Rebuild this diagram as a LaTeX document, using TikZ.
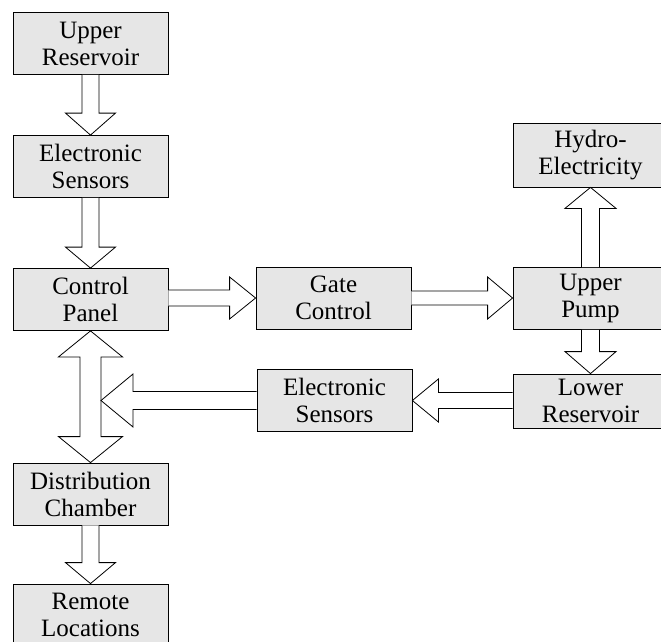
\documentclass[tikz,border=0pt]{standalone}
\usepackage{fontspec}
\setmainfont{Liberation Serif}
\usetikzlibrary{calc}
\definecolor{boxgray}{RGB}{230,230,230}
\tikzset{
  box/.style={draw=black, fill=boxgray, line width=0.8pt, minimum width=155pt, minimum height=62pt,
    inner sep=0pt, align=center, font=\fontsize{25}{27}\selectfont},
  blk/.style={draw=black, fill=white, line width=0.8pt, line join=miter}
}
% #1 start, #2 tip, #3 shaft half width, #4 head half width, #5 head length
\newcommand\blkarrow[5]{%
  \path ($(#2)!#5!(#1)$) coordinate (hb);
  \draw[blk] ($(#1)!#3!90:(#2)$) -- ($(hb)!#3!90:(#2)$) -- ($(hb)!#4!90:(#2)$) -- (#2)
    -- ($(hb)!#4!-90:(#2)$) -- ($(hb)!#3!-90:(#2)$) -- ($(#1)!#3!-90:(#2)$);}
% double-headed: #1 tip A, #2 tip B, #3 shaft half, #4 head half, #5 head length
\newcommand\dblarrow[5]{%
  \path ($(#2)!#5!(#1)$) coordinate (hbB);
  \path ($(#1)!#5!(#2)$) coordinate (hbA);
  \draw[blk] (#1) -- ($(hbA)!#4!-90:(#1)$) -- ($(hbA)!#3!-90:(#1)$) -- ($(hbB)!#3!90:(#2)$)
    -- ($(hbB)!#4!90:(#2)$) -- (#2) -- ($(hbB)!#4!-90:(#2)$) -- ($(hbB)!#3!-90:(#2)$)
    -- ($(hbA)!#3!90:(#1)$) -- ($(hbA)!#4!90:(#1)$) -- cycle;}
\begin{document}
\begin{tikzpicture}[x=1pt,y=-1pt]
\clip (0,0) rectangle (661,642);
\fill[white] (0,0) rectangle (661,642);
% left column
\node[box] (UR) at (90.5,43.5) {Upper\\Reservoir};
\node[box] (ES1) at (90.5,166.5) {Electronic\\Sensors};
\node[box] (CP) at (90.5,299.5) {Control\\Panel};
\node[box] (DC) at (90.5,494) {Distribution\\Chamber};
\node[box] (RL) at (90.5,615) {Remote\\Locations};
% middle column
\node[box] (GC) at (333.5,298) {Gate\\Control};
\node[box] (ES2) at (334.5,400.5) {Electronic\\Sensors};
% right column
\node[box, minimum height=64pt] (HE) at (590.5,155) {Hydro-\\Electricity};
\node[box] (UP) at (590.5,298.5) {Upper\\Pump};
\node[box, minimum height=54pt] (LR) at (590.5,401) {Lower\\Reservoir};
% connectors
\blkarrow{UR.south}{ES1.north}{8.5pt}{25pt}{22pt}
\blkarrow{ES1.south}{CP.north}{8.5pt}{25pt}{21pt}
\blkarrow{DC.south}{RL.north}{8.5pt}{25pt}{21pt}
\blkarrow{CP.east |- GC.west}{GC.west}{8pt}{21pt}{26pt}
\blkarrow{GC.east}{GC.east -| UP.west}{7pt}{21pt}{25pt}
\blkarrow{UP.north}{HE.south}{9pt}{25.5pt}{21pt}
\blkarrow{UP.south}{LR.north}{9pt}{25.5pt}{22pt}
\blkarrow{ES2.east -| LR.west}{ES2.east}{8pt}{21.5pt}{26pt}
\dblarrow{CP.south}{DC.north}{10.5pt}{32pt}{26pt}
\path (CP.south) ++(10.5,0) coordinate (jx);
\coordinate (jn) at (jx |- ES2.west);
\blkarrow{ES2.west}{jn}{9pt}{26.5pt}{32pt}
\end{tikzpicture}
\end{document}
